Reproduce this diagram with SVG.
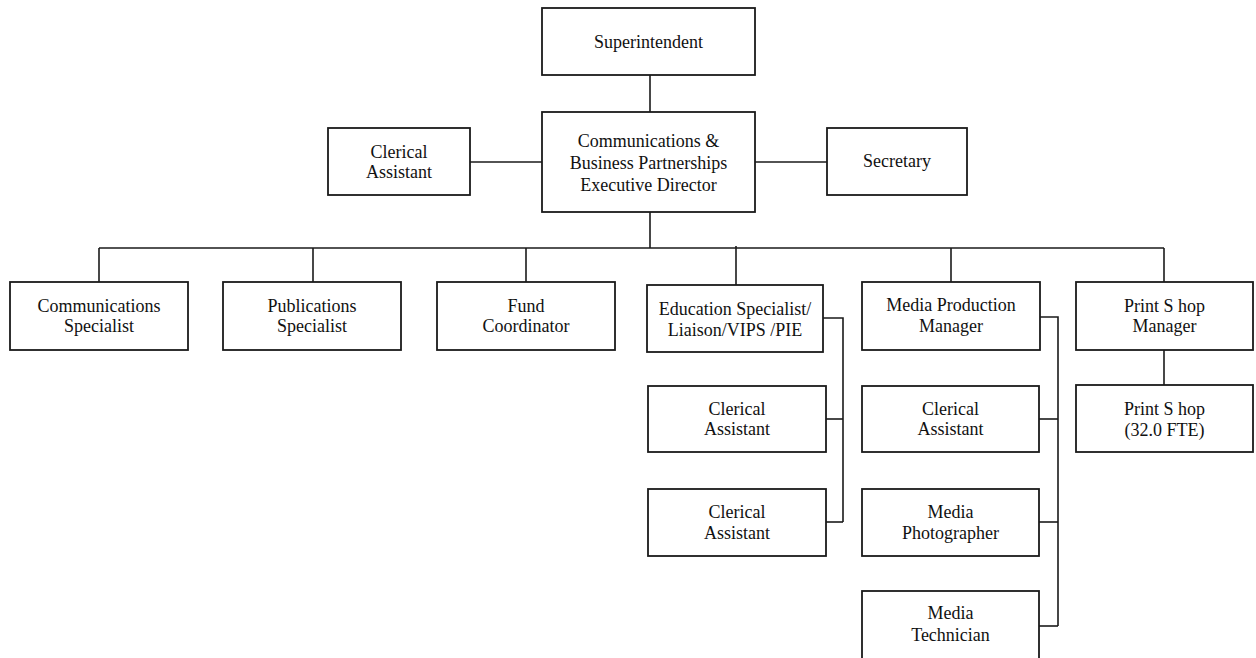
<svg xmlns="http://www.w3.org/2000/svg" width="1256" height="658" viewBox="0 0 1256 658">
  <style>
    .box { fill: #ffffff; stroke: #1a1a1a; stroke-width: 1.8; }
    .wire { fill: none; stroke: #1a1a1a; stroke-width: 1.6; }
    text { font-family: "Liberation Serif", "Times New Roman", serif; font-size: 18px; fill: #111111; text-anchor: middle; }
  </style>
  <rect width="1256" height="658" fill="#ffffff"/>

  <!-- reporting lines -->
  <g id="connectors">
    <path class="wire" d="M650 75 V112"/>
    <path class="wire" d="M470 162 H542"/>
    <path class="wire" d="M755 162 H827"/>
    <path class="wire" d="M650 212 V248"/>
    <path class="wire" d="M99 248 H1164"/>
    <path class="wire" d="M99 248 V282"/>
    <path class="wire" d="M313 248 V282"/>
    <path class="wire" d="M526 248 V282"/>
    <path class="wire" d="M736 246 V285"/>
    <path class="wire" d="M951 248 V282"/>
    <path class="wire" d="M1164 248 V282"/>
    <!-- education specialist staff -->
    <path class="wire" d="M823 318 H843 V522"/>
    <path class="wire" d="M826 419 H843"/>
    <path class="wire" d="M826 522 H843"/>
    <!-- media production staff -->
    <path class="wire" d="M1040 317 H1058 V626"/>
    <path class="wire" d="M1039 419 H1058"/>
    <path class="wire" d="M1039 522 H1058"/>
    <path class="wire" d="M1039 626 H1058"/>
    <!-- print shop -->
    <path class="wire" d="M1164 350 V385"/>
  </g>

  <g id="superintendent">
    <rect class="box" x="542" y="8" width="213" height="67"/>
    <text x="648.5" y="48">Superintendent</text>
  </g>
  <g id="executive-director">
    <rect class="box" x="542" y="112" width="213" height="100"/>
    <text x="648.5" y="147">Communications &amp;</text>
    <text x="648.5" y="169">Business Partnerships</text>
    <text x="648.5" y="191">Executive Director</text>
  </g>
  <g id="clerical-assistant-exec">
    <rect class="box" x="328" y="128" width="142" height="67"/>
    <text x="399" y="158">Clerical</text>
    <text x="399" y="178">Assistant</text>
  </g>
  <g id="secretary">
    <rect class="box" x="827" y="128" width="140" height="67"/>
    <text x="897" y="167">Secretary</text>
  </g>

  <g id="communications-specialist">
    <rect class="box" x="10" y="282" width="178" height="68"/>
    <text x="99" y="312">Communications</text>
    <text x="99" y="332">Specialist</text>
  </g>
  <g id="publications-specialist">
    <rect class="box" x="223" y="282" width="178" height="68"/>
    <text x="312" y="312">Publications</text>
    <text x="312" y="332">Specialist</text>
  </g>
  <g id="fund-coordinator">
    <rect class="box" x="437" y="282" width="178" height="68"/>
    <text x="526" y="312">Fund</text>
    <text x="526" y="332">Coordinator</text>
  </g>
  <g id="education-specialist">
    <rect class="box" x="647" y="285" width="176" height="67"/>
    <text x="735" y="315">Education Specialist/</text>
    <text x="735" y="336">Liaison/VIPS /PIE</text>
  </g>
  <g id="media-production-manager">
    <rect class="box" x="862" y="282" width="178" height="68"/>
    <text x="951" y="311">Media Production</text>
    <text x="951" y="332">Manager</text>
  </g>
  <g id="print-shop-manager">
    <rect class="box" x="1076" y="282" width="177" height="68"/>
    <text x="1164.5" y="312">Print S hop</text>
    <text x="1164.5" y="332">Manager</text>
  </g>

  <g id="education-clerical-1">
    <rect class="box" x="648" y="386" width="178" height="66"/>
    <text x="737" y="415">Clerical</text>
    <text x="737" y="435">Assistant</text>
  </g>
  <g id="education-clerical-2">
    <rect class="box" x="648" y="489" width="178" height="67"/>
    <text x="737" y="518">Clerical</text>
    <text x="737" y="539">Assistant</text>
  </g>
  <g id="media-clerical">
    <rect class="box" x="862" y="386" width="177" height="66"/>
    <text x="950.5" y="415">Clerical</text>
    <text x="950.5" y="435">Assistant</text>
  </g>
  <g id="media-photographer">
    <rect class="box" x="862" y="489" width="177" height="67"/>
    <text x="950.5" y="518">Media</text>
    <text x="950.5" y="539">Photographer</text>
  </g>
  <g id="media-technician">
    <rect class="box" x="862" y="591" width="177" height="72"/>
    <text x="950.5" y="619">Media</text>
    <text x="950.5" y="641">Technician</text>
  </g>
  <g id="print-shop">
    <rect class="box" x="1076" y="385" width="177" height="67"/>
    <text x="1164.5" y="415">Print S hop</text>
    <text x="1164.5" y="436">(32.0 FTE)</text>
  </g>
</svg>
